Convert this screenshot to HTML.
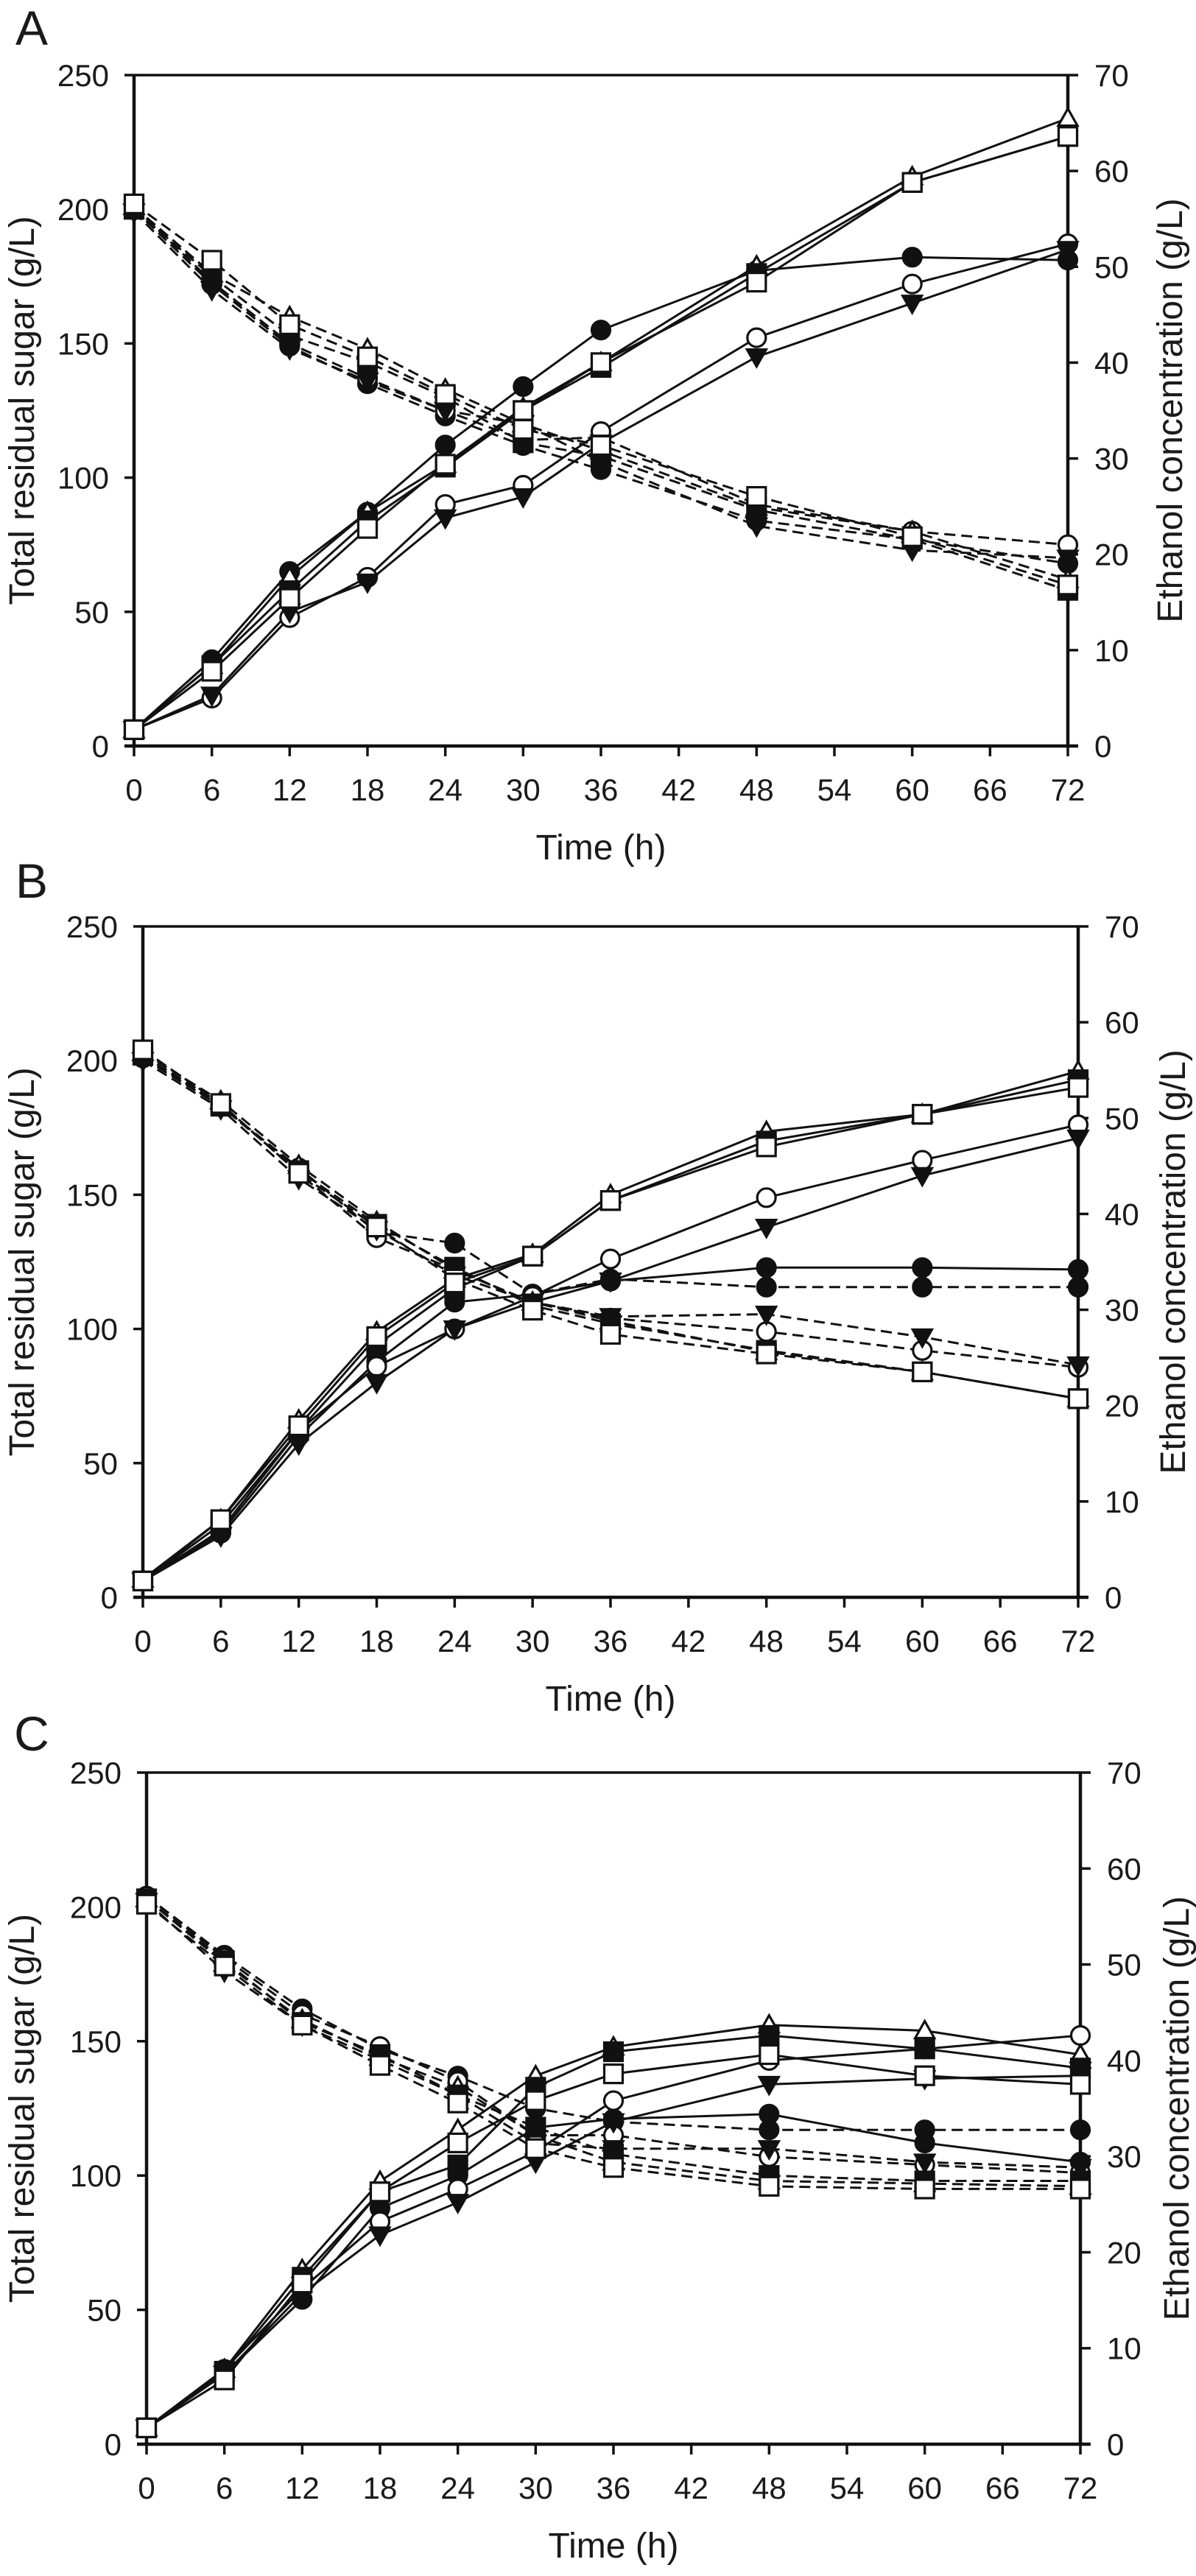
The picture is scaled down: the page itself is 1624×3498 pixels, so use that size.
<!DOCTYPE html>
<html>
<head>
<meta charset="utf-8">
<style>
html,body{margin:0;padding:0;background:#fff;}
svg{display:block;}
text{font-family:"Liberation Sans",Arial,sans-serif;fill:#1a1a1a;}
</style>
</head>
<body>
<svg id="fig" width="1624" height="3498" viewBox="0 0 1624 3498" xmlns="http://www.w3.org/2000/svg"></svg>
<script>
// ---- shared data ----
const times = [0, 6, 12, 18, 24, 30, 36, 48, 60, 72];
const xTicks = [0, 6, 12, 18, 24, 30, 36, 42, 48, 54, 60, 66, 72];
const leftTicks = [0, 50, 100, 150, 200, 250];
const rightTicks = [0, 10, 20, 30, 40, 50, 60, 70];
const seriesKeys = ['fc', 'oc', 'ft', 'ot', 'fs', 'os'];

// ---- Panel A ----
const aSugarFc = [200, 172, 149, 135, 123, 112, 103, 84, 77, 68];
const aSugarOc = [201, 173, 150, 137, 125, 114, 115, 90, 80, 75];
const aSugarFt = [199, 170, 148, 136, 125, 120, 106, 82, 73, 70];
const aSugarOt = [201, 176, 160, 148, 133, 120, 110, 89, 80, 62];
const aSugarFs = [200, 175, 153, 143, 130, 113, 108, 88, 77, 58];
const aSugarOs = [202, 181, 157, 145, 131, 118, 112, 93, 78, 60];
const aEthFc = [1.7, 9.0, 18.2, 24.4, 31.4, 37.5, 43.4, 49.6, 51.0, 50.7];
const aEthOc = [1.7, 5.0, 13.4, 17.6, 25.2, 27.2, 32.8, 42.6, 48.2, 52.4];
const aEthFt = [1.7, 5.3, 14.0, 17.1, 23.8, 26.0, 31.6, 40.6, 46.2, 51.8];
const aEthOt = [1.7, 8.4, 17.6, 24.4, 29.4, 35.3, 40.0, 50.1, 59.4, 65.5];
const aEthFs = [1.7, 8.4, 16.2, 23.5, 29.1, 35.0, 39.5, 49.3, 58.8, 63.6];
const aEthOs = [1.7, 7.8, 15.4, 22.7, 29.4, 35.0, 40.0, 48.4, 58.8, 63.6];

// ---- Panel B ----
const bSugarFc = [201, 183, 160, 136, 132, 113, 118.6, 115.6, 115.6, 115.6];
const bSugarOc = [202, 184, 158, 134, 122, 110, 104, 99, 92, 85.7];
const bSugarFt = [200, 182, 156, 137, 120, 110, 104.6, 105.5, 97, 86.6];
const bSugarOt = [203, 185, 161, 140, 122, 110, 103, 91.5, 84, 74];
const bSugarFs = [202, 183, 159, 139, 123, 108.7, 102, 92, 84, 74];
const bSugarOs = [204, 184, 158, 138, 118.6, 107, 98, 90.7, 84, 74];
const bEthFc = [1.7, 6.7, 16.8, 24.6, 30.8, 31.6, 33.0, 34.4, 34.4, 34.2];
const bEthOc = [1.7, 7.0, 17.4, 24.1, 28.0, 31.4, 35.3, 41.7, 45.6, 49.3];
const bEthFt = [1.7, 6.4, 16.0, 22.4, 28.0, 30.8, 33.0, 38.6, 44.0, 47.9];
const bEthOt = [1.9, 8.1, 18.5, 27.7, 33.2, 35.8, 42.0, 48.6, 50.4, 54.9];
const bEthFs = [1.7, 7.6, 17.4, 26.3, 32.2, 35.6, 41.4, 47.6, 50.4, 54.0];
const bEthOs = [1.7, 8.1, 17.9, 27.2, 32.8, 35.6, 41.4, 47.0, 50.4, 53.2];

// ---- Panel C ----
const cSugarFc = [204, 182, 162, 147, 137, 125, 120, 117, 117, 117];
const cSugarOc = [204, 181, 160, 148, 135, 115, 115, 107, 104, 101];
const cSugarFt = [202, 176, 156, 143, 130, 112, 110, 110, 105, 103];
const cSugarOt = [203, 179, 158, 144, 133, 115, 105, 98, 97, 96];
const cSugarFs = [203, 180, 157, 145, 130, 118, 108, 100, 98, 98];
const cSugarOs = [201, 178, 156, 141, 127, 110, 103, 96, 95, 95];
const cEthFc = [1.7, 7.3, 15.1, 24.6, 28.0, 33.0, 33.9, 34.4, 31.4, 29.4];
const cEthOc = [1.7, 7.8, 16.2, 23.2, 26.6, 30.5, 35.8, 40.0, 41.2, 42.6];
const cEthFt = [1.7, 7.3, 15.7, 21.8, 25.2, 29.4, 33.6, 37.5, 38.1, 38.4];
const cEthOt = [1.7, 7.8, 18.2, 27.4, 32.8, 38.4, 41.4, 43.7, 43.1, 40.6];
const cEthFs = [1.7, 7.6, 17.4, 26.3, 29.1, 37.2, 40.9, 42.6, 41.2, 39.2];
const cEthOs = [1.7, 6.7, 16.8, 26.3, 31.4, 35.8, 38.6, 40.6, 38.4, 37.5];

const panels = [
  {id:'a', label:'A', x0:182, x1:1450, yT:102, yB:1013, labelY:37, ttlX:1588,
   sugar:{fc:aSugarFc,oc:aSugarOc,ft:aSugarFt,ot:aSugarOt,fs:aSugarFs,os:aSugarOs},
   eth:{fc:aEthFc,oc:aEthOc,ft:aEthFt,ot:aEthOt,fs:aEthFs,os:aEthOs}},
  {id:'b', label:'B', x0:194, x1:1464, yT:1258, yB:2169, labelY:1195, ttlX:1592,
   sugar:{fc:bSugarFc,oc:bSugarOc,ft:bSugarFt,ot:bSugarOt,fs:bSugarFs,os:bSugarOs},
   eth:{fc:bEthFc,oc:bEthOc,ft:bEthFt,ot:bEthOt,fs:bEthFs,os:bEthOs}},
  {id:'c', label:'C', x0:199, x1:1467, yT:2407, yB:3319, labelY:2353, ttlX:1597,
   sugar:{fc:cSugarFc,oc:cSugarOc,ft:cSugarFt,ot:cSugarOt,fs:cSugarFs,os:cSugarOs},
   eth:{fc:cEthFc,oc:cEthOc,ft:cEthFt,ot:cEthOt,fs:cEthFs,os:cEthOs}}
];

const NS = 'http://www.w3.org/2000/svg';
const svg = document.getElementById('fig');
function mk(tag, attrs, parent, txt){
  const e = document.createElementNS(NS, tag);
  for (const k in attrs) e.setAttribute(k, attrs[k]);
  if (txt !== undefined) e.textContent = txt;
  (parent||svg).appendChild(e);
  return e;
}

function marker(g, key, cx, cy){
  let el;
  const fill = key[0] === 'f' ? '#111' : '#fff';
  const st = {fill:fill, stroke:'#111', 'stroke-width':3.2};
  if (key[1] === 'c') {
    el = mk('circle', Object.assign({cx:cx, cy:cy, r:12.5}, st), g);
  } else if (key[1] === 's') {
    el = mk('rect', Object.assign({x:cx-12.5, y:cy-12.5, width:25, height:25}, st), g);
  } else if (key === 'ft') {
    el = mk('polygon', Object.assign({points:`${cx-13},${cy-10} ${cx+13},${cy-10} ${cx},${cy+13}`}, st), g);
  } else {
    el = mk('polygon', Object.assign({points:`${cx-13},${cy+10} ${cx+13},${cy+10} ${cx},${cy-13}`}, st), g);
  }
  
  
}

panels.forEach(p => {
  const g = mk('g', {});
  
  
  const xs = t => p.x0 + (p.x1 - p.x0) * t / 72;
  const yL = v => p.yB - (p.yB - p.yT) * v / 250;
  const yR = v => p.yB - (p.yB - p.yT) * v / 70;

  const lab = mk('text', {x:43, y:p.labelY+24, 'font-size':66, 'text-anchor':'middle'}, g, p.label);
  
  

  const frame = mk('g', {stroke:'#111', 'stroke-width':4.5, fill:'none'}, g);
  
  
  mk('line', {x1:p.x0, y1:p.yT, x2:p.x1, y2:p.yT, 'stroke-width':3.5}, frame);
  mk('line', {x1:p.x0, y1:p.yT, x2:p.x0, y2:p.yB}, frame);
  mk('line', {x1:p.x1, y1:p.yT, x2:p.x1, y2:p.yB}, frame);
  mk('line', {x1:p.x0-13, y1:p.yB, x2:p.x1+14, y2:p.yB}, frame);

  const lt = mk('g', {}, g);
  
  
  leftTicks.forEach(v => {
    mk('line', {x1:p.x0-13, y1:yL(v), x2:p.x0, y2:yL(v), stroke:'#111', 'stroke-width':3.5}, lt);
    mk('text', {x:p.x0-34, y:yL(v)+15, 'font-size':42, 'text-anchor':'end'}, lt, v);
  });
  const rt = mk('g', {}, g);
  
  
  rightTicks.forEach(v => {
    mk('line', {x1:p.x1, y1:yR(v), x2:p.x1+14, y2:yR(v), stroke:'#111', 'stroke-width':3.5}, rt);
    mk('text', {x:p.x1+36, y:yR(v)+15, 'font-size':42, 'text-anchor':'start'}, rt, v);
  });
  const xt = mk('g', {}, g);
  
  
  xTicks.forEach(t => {
    mk('line', {x1:xs(t), y1:p.yB, x2:xs(t), y2:p.yB+14, stroke:'#111', 'stroke-width':3.5}, xt);
    mk('text', {x:xs(t), y:p.yB+74, 'font-size':42, 'text-anchor':'middle'}, xt, t);
  });
  const xtt = mk('text', {x:(p.x0+p.x1)/2, y:p.yB+154, 'font-size':48, 'text-anchor':'middle'}, g, 'Time (h)');
  
  
  const cy = (p.yT + p.yB) / 2;
  const ylt = mk('text', {x:0, y:0, 'font-size':48, 'text-anchor':'middle', transform:`translate(46,${cy}) rotate(-90)`}, g, 'Total residual sugar (g/L)');
  
  
  const yrt = mk('text', {x:0, y:0, 'font-size':48, 'text-anchor':'middle', transform:`translate(${p.ttlX+17},${cy}) rotate(-90)`}, g, 'Ethanol concentration (g/L)');
  
  

  seriesKeys.forEach(k => {
    const sg = mk('g', {}, g);
    
    
    const pts = times.map((t,i) => xs(t).toFixed(1) + ',' + yL(p.sugar[k][i]).toFixed(1)).join(' ');
    mk('polyline', {points:pts, fill:'none', stroke:'#111', 'stroke-width':3, 'stroke-dasharray':'15 8'}, sg);
  });
  seriesKeys.forEach(k => {
    const sg = mk('g', {}, g);
    
    
    const pts = times.map((t,i) => xs(t).toFixed(1) + ',' + yR(p.eth[k][i]).toFixed(1)).join(' ');
    mk('polyline', {points:pts, fill:'none', stroke:'#111', 'stroke-width':3}, sg);
  });
  seriesKeys.forEach(k => {
    const mg = mk('g', {}, g);
    
    
    times.forEach((t,i) => {
      marker(mg, k, xs(t), yL(p.sugar[k][i]));
      marker(mg, k, xs(t), yR(p.eth[k][i]));
    });
  });
});
</script>
</body>
</html>
